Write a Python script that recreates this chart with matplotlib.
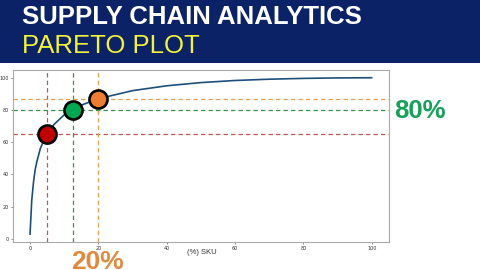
import matplotlib
matplotlib.use("Agg")
import matplotlib.pyplot as plt
from matplotlib.patches import Rectangle

# cumulative share of demand vs share of SKU
sku_pct = [0, 0.5, 1, 1.5, 2, 3, 4, 5, 7, 10, 12.7, 15, 20, 25, 30, 40, 50, 60, 70, 80, 90, 100]
cum_pct = [3, 24, 35, 43, 48, 56, 61, 65, 71, 77, 80, 83, 87, 89.5, 92, 95, 97, 98.3, 99.1, 99.6, 99.9, 100]

# highlighted points: (x, y, fill, line colour)
pt_x = [5, 12.7, 20]
pt_y = [65, 80, 87]
pt_fill = ["#c00000", "#00a650", "#ed7d31"]
pt_line = ["#b85a50", "#3a9040", "#e3a050"]

xticks = [0, 20, 40, 60, 80, 100]
yticks = [0, 20, 40, 60, 80, 100]

fig = plt.figure(figsize=(4.8, 2.7), dpi=100)
fig.patch.set_facecolor("white")

ax = fig.add_axes([0.027, 0.104, 0.783, 0.637])
ax.plot(sku_pct, cum_pct, color="#1f4e79", lw=1.2, zorder=3)

for x, y, fc, lc in zip(pt_x, pt_y, pt_fill, pt_line):
    ax.axvline(x, color=lc, ls=(0, (3.5, 2.5)), lw=0.9, zorder=2)
    ax.axhline(y, color=lc, ls=(0, (3.5, 2.5)), lw=0.9, zorder=2)
    ax.plot(x, y, "o", ms=13, mfc=fc, mec="black", mew=1.9, zorder=4)

ax.set_xticks(xticks)
ax.set_yticks(yticks)
ax.tick_params(labelsize=3.5, length=1.5, width=0.4, pad=1.5, colors="#333333")
for s in ax.spines.values():
    s.set_color("#aaaaaa")
    s.set_linewidth(0.8)
ax.margins(0.05)

# header band
fig.patches.append(Rectangle((0, 0.767), 1, 0.233, transform=fig.transFigure,
                             facecolor="#0b2266", edgecolor="none", zorder=5))
fig.text(0.045, 0.938, "SUPPLY CHAIN ANALYTICS", color="white", fontsize=18.5,
         fontweight="bold", family="Liberation Sans", va="center", zorder=6)
fig.text(0.045, 0.83, "PARETO PLOT", color="#f2f23a", fontsize=18.5,
         family="Liberation Sans", va="center", zorder=6)

fig.text(0.39, 0.065, "(%) SKU", color="#333333", fontsize=5.5,
         family="Liberation Sans", va="center")
fig.text(0.822, 0.59, "80%", color="#17a05a", fontsize=18.5, fontweight="bold",
         family="Liberation Sans", va="center")
fig.text(0.148, 0.03, "20%", color="#e08a40", fontsize=19, fontweight="bold",
         family="Liberation Sans", va="center")

fig.savefig("out.png", dpi=100)
